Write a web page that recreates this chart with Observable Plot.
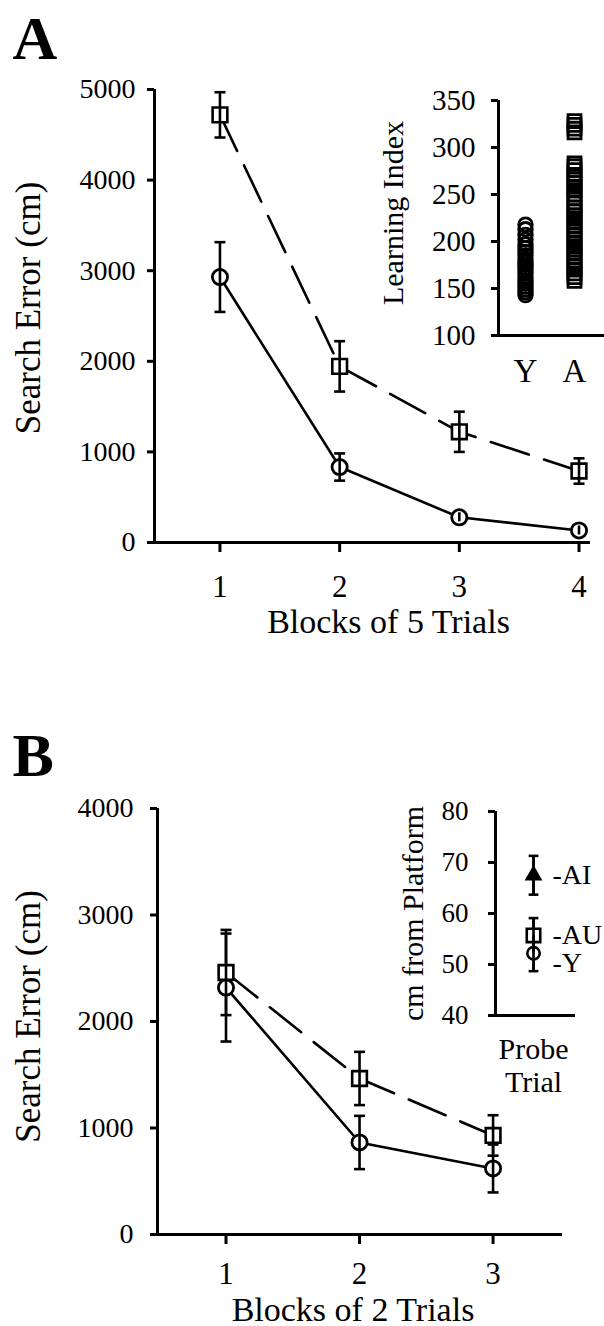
<!DOCTYPE html>
<html><head><meta charset="utf-8">
<script src="https://cdn.jsdelivr.net/npm/d3@7"></script>
<script src="https://cdn.jsdelivr.net/npm/@observablehq/plot@0.6"></script>
<style>
html,body{margin:0;padding:0;background:#fff;}
#fig{position:relative;width:604px;height:1326px;overflow:hidden;background:#fff;font-family:'Liberation Serif';}
#fig svg{position:absolute;}
</style></head><body><div id="fig"></div>
<script>
const FONT = "'Liberation Serif'";

// ---- Panel A: search error over blocks of 5 trials ----
const blocksA = [1, 2, 3, 4];
const youngA = [2930, 833, 278, 133];
const youngErrA = [385, 150, 50, 50];
const agedA = [4720, 1944, 1222, 789];
const agedErrA = [250, 278, 222, 140];
const yTicksA = [0, 1000, 2000, 3000, 4000, 5000];
const xTitleA = "Blocks of 5 Trials";
const yTitle = "Search Error (cm)";

// ---- Inset A: learning index (individual subjects) ----
const insetAGroups = ["Y", "A"];
const learningY = [218, 213, 207, 202, 197, 193, 189, 185, 181, 178, 175, 172, 169, 166, 162, 158, 155, 152, 149, 146, 143];
const learningA = [328, 324, 320, 316, 283, 280, 276, 271, 266, 262, 258, 254, 250, 246, 241, 236, 232, 228, 224, 220, 216, 212, 207, 203, 199, 195, 191, 187, 183, 178, 174, 170, 166, 162, 158];
const insetATicks = [100, 150, 200, 250, 300, 350];
const insetATitle = "Learning Index";

// ---- Panel B: search error over blocks of 2 trials ----
const blocksB = [1, 2, 3];
const youngB = [2319, 864, 620];
const youngErrB = [507, 250, 225];
const agedB = [2460, 1465, 930];
const agedErrB = [400, 250, 190];
const yTicksB = [0, 1000, 2000, 3000, 4000];
const xTitleB = "Blocks of 2 Trials";

// ---- Inset B: probe trial ----
const insetBGroups = ["AI", "AU", "Y"];
const insetBMeans = [67.5, 55.7, 52.2];
const insetBErrs = [3.8, 3.4, 3.5];
const insetBSymbols = ["triangle", "square", "circle"];
const insetBTicks = [40, 50, 60, 70, 80];
const insetBTitle = "cm from Platform";
const probeLabel = "Probe\nTrial";

const series = (blocks, vals, errs, group) => blocks.map((b, i) => ({block: b, value: vals[i], err: errs[i], group}));
const capSymbol = {draw(ctx, size) { const w = Math.sqrt(size); ctx.moveTo(-w / 2, 0); ctx.lineTo(w / 2, 0); }};
const baseStyle = {background: "transparent", color: "black", overflow: "visible"};

function errMarks(rows, capR) {
  return [
    Plot.ruleX(rows, {x: "block", y1: d => d.value - d.err, y2: d => d.value + d.err, stroke: "black", strokeWidth: 2.6}),
    Plot.dot(rows, {x: "block", y: d => d.value + d.err, symbol: capSymbol, r: capR, stroke: "black", strokeWidth: 2.6, fill: "none"}),
    Plot.dot(rows, {x: "block", y: d => d.value - d.err, symbol: capSymbol, r: capR, stroke: "black", strokeWidth: 2.6, fill: "none"})
  ];
}

function mainPanel({letter, blocks, young, youngErr, aged, agedErr, yTicks, xTitle, width, height, mL, mR, mT, mB, xDom, yPad, xPad, letterDx, letterDy, xTitleDx, xTitleDy, yTitleDx, yTitleDy}) {
  const yr = series(blocks, young, youngErr, "Y");
  const ar = series(blocks, aged, agedErr, "A");
  const yMax = yTicks[yTicks.length - 1];
  const inner = 90 * yMax / 5000;
  return Plot.plot({
    width, height, marginLeft: mL, marginRight: mR, marginTop: mT, marginBottom: mB,
    x: {domain: xDom, axis: null}, y: {domain: [0, yMax], axis: null},
    style: baseStyle,
    marks: [
      Plot.ruleY([0], {stroke: "black", strokeWidth: 3}),
      Plot.ruleX([xDom[0]], {y1: 0, y2: yMax, stroke: "black", strokeWidth: 3}),
      Plot.axisY({ticks: yTicks, tickSize: 7, tickPadding: yPad, strokeWidth: 3, label: null, tickFormat: d => String(d), fontSize: 28}),
      Plot.axisX({ticks: blocks, tickSize: 10, tickPadding: xPad, strokeWidth: 3, label: null, tickFormat: d => String(d), fontSize: 31}),
      Plot.line(ar, {x: "block", y: "value", stroke: "black", strokeWidth: 2.6, strokeDasharray: "40,16"}),
      Plot.line(yr, {x: "block", y: "value", stroke: "black", strokeWidth: 2.6}),
      ...errMarks(ar, 6.2),
      ...errMarks(yr, 6.2),
      Plot.dot(ar, {x: "block", y: "value", symbol: "square", r: 8.3, fill: "white", stroke: "black", strokeWidth: 2.6}),
      Plot.dot(yr, {x: "block", y: "value", symbol: "circle", r: 7.6, fill: "white", stroke: "black", strokeWidth: 2.8}),
      Plot.ruleX([...ar, ...yr], {x: "block", y1: d => d.value - Math.min(d.err, inner), y2: d => d.value + Math.min(d.err, inner), stroke: "black", strokeWidth: 2.6}),
      Plot.text([xTitle], {text: d => d, frameAnchor: "bottom", textAnchor: "middle", dx: xTitleDx, dy: xTitleDy, lineAnchor: "bottom", fontSize: 34}),
      Plot.text([yTitle], {text: d => d, frameAnchor: "left", textAnchor: "middle", lineAnchor: "middle", rotate: -90, dx: yTitleDx, dy: yTitleDy, fontSize: 35}),
      Plot.text([letter], {text: d => d, frameAnchor: "top-left", dx: letterDx, dy: letterDy, textAnchor: "start", lineAnchor: "bottom", fontSize: 62, fontWeight: "bold"})
    ]
  });
}

const fig = document.getElementById("fig");
function place(svg, left, top) {
  svg.style.left = left + "px"; svg.style.top = top + "px";
  svg.style.fontFamily = FONT;
  svg.removeAttribute("font-family");
  svg.querySelectorAll("[font-family]").forEach(el => el.removeAttribute("font-family"));
  svg.querySelectorAll("text, tspan").forEach(el => { el.style.fontFamily = FONT; });
  fig.appendChild(svg);
}

// Panel A main
place(mainPanel({letter: "A", blocks: blocksA, young: youngA, youngErr: youngErrA, aged: agedA, agedErr: agedErrA,
  yTicks: yTicksA, xTitle: xTitleA, width: 604, height: 660, mL: 154, mR: 14, mT: 89, mB: 118,
  xDom: [0.453, 4.096], yPad: 12, xPad: 22, letterDx: -142, letterDy: -31, xTitleDx: 16, xTitleDy: 90, yTitleDx: -126, yTitleDy: -8}), 0, 0);

// Panel B main
place(mainPanel({letter: "B", blocks: blocksB, young: youngB, youngErr: youngErrB, aged: agedB, agedErr: agedErrB,
  yTicks: yTicksB, xTitle: xTitleB, width: 604, height: 666, mL: 157, mR: 42, mT: 148, mB: 92,
  xDom: [0.487, 3.52], yPad: 17, xPad: 17, letterDx: -145, letterDy: -33, xTitleDx: -7, xTitleDy: 86, yTitleDx: -129, yTitleDy: -5}), 0, 660);

// Inset A
const insetADom = [0.449, 2.612];
const learnRows = [
  ...learningY.map(v => ({group: "Y", value: v})),
  ...learningA.map(v => ({group: "A", value: v}))
];
const gx = d => insetAGroups.indexOf(d.group) + 1;
place(Plot.plot({
  width: 244, height: 330, marginLeft: 138, marginRight: 0, marginTop: 40, marginBottom: 55,
  x: {domain: insetADom, axis: null}, y: {domain: [100, 350], axis: null},
  style: baseStyle,
  marks: [
    Plot.ruleY([100], {stroke: "black", strokeWidth: 3}),
    Plot.ruleX([insetADom[0]], {y1: 100, y2: 350, stroke: "black", strokeWidth: 3}),
    Plot.axisY({ticks: insetATicks, tickSize: 7, tickPadding: 16, strokeWidth: 3, label: null, tickFormat: d => String(d), fontSize: 29}),
    Plot.axisX({ticks: [1, 2], tickSize: 0, tickPadding: 23, label: null, tickFormat: i => insetAGroups[i - 1], fontSize: 33}),
    Plot.dot(learnRows.filter(d => d.group === "Y"), {x: gx, y: "value", symbol: "circle", r: 6.8, fill: "none", stroke: "black", strokeWidth: 2.8}),
    Plot.dot(learnRows.filter(d => d.group === "A"), {x: gx, y: "value", symbol: "square", r: 7.3, fill: "none", stroke: "black", strokeWidth: 2.8}),
    Plot.text([insetATitle], {text: d => d, frameAnchor: "left", textAnchor: "middle", lineAnchor: "middle", rotate: -90, dx: -105, dy: -5, fontSize: 30})
  ]
}), 360, 60);

// Inset B
const insetBDom = [0, 2.105];
const probeRows = insetBGroups.map((g, i) => ({group: g, block: 1, value: insetBMeans[i], err: insetBErrs[i], symbol: insetBSymbols[i]}));
place(Plot.plot({
  width: 234, height: 310, marginLeft: 125, marginRight: 29, marginTop: 21, marginBottom: 85,
  x: {domain: insetBDom, axis: null}, y: {domain: [40, 80], axis: null},
  style: baseStyle,
  marks: [
    Plot.ruleY([40], {stroke: "black", strokeWidth: 3}),
    Plot.ruleX([insetBDom[0]], {y1: 40, y2: 80, stroke: "black", strokeWidth: 3}),
    Plot.axisY({ticks: insetBTicks, tickSize: 7, tickPadding: 20, strokeWidth: 3, label: null, tickFormat: d => String(d), fontSize: 27}),
    ...errMarks(probeRows, 5.5),
    Plot.dot(probeRows.filter(d => d.symbol === "triangle"), {x: "block", y: "value", symbol: "triangle", r: 5, fill: "black", stroke: "black", strokeWidth: 2.5}),
    Plot.dot(probeRows.filter(d => d.symbol === "square"), {x: "block", y: "value", symbol: "square", r: 7.6, fill: "white", stroke: "black", strokeWidth: 2.6}),
    Plot.dot(probeRows.filter(d => d.symbol === "circle"), {x: "block", y: "value", symbol: "circle", r: 6.2, fill: "white", stroke: "black", strokeWidth: 2.6}),
    Plot.ruleX(probeRows, {x: "block", y1: d => d.value - d.err, y2: d => d.value + d.err, stroke: "black", strokeWidth: 2.6}),
    Plot.text(probeRows.filter(d => d.group !== "Y"), {x: "block", y: "value", text: d => "-" + d.group, dx: 19, textAnchor: "start", fontSize: 28}),
    Plot.text(probeRows.filter(d => d.group === "Y"), {x: "block", y: "value", text: d => "-" + d.group, dx: 19, dy: 10, textAnchor: "start", fontSize: 28}),
    Plot.text([probeLabel], {text: d => d, x: 1, frameAnchor: "bottom", textAnchor: "middle", lineAnchor: "top", dy: 19, fontSize: 30, lineHeight: 1.13}),
    Plot.text([insetBTitle], {text: d => d, frameAnchor: "left", textAnchor: "middle", lineAnchor: "middle", rotate: -90, dx: -82, dy: 0, fontSize: 30})
  ]
}), 370, 790);
</script></body></html>
